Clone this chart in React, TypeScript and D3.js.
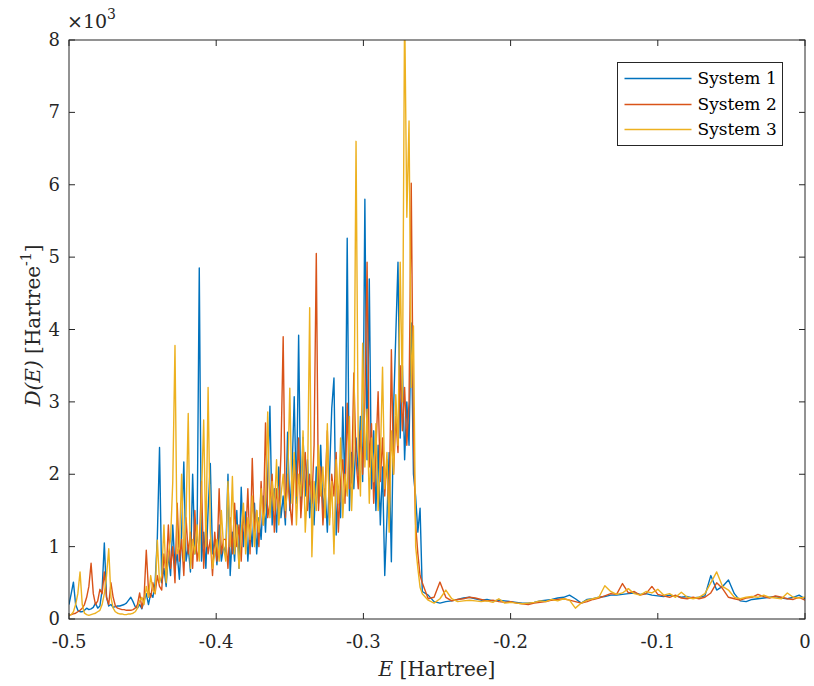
import React from 'react';
import * as d3 from 'd3';

// energies: fine grid over the noisy band, coarse grid over the flat tail
const E_NOISY_START = -0.5;
const E_NOISY_STEP = 0.0015;
const E_TAIL_START = -0.26;
const E_TAIL_STEP = 0.004;

// D(E) in units of 1e3 Hartree^-1
const sys1Noisy = [
  0.2, 0.35, 0.51, 0.2, 0.12, 0.1, 0.1, 0.12, 0.15, 0.13, 0.14, 0.16, 0.22, 0.15, 0.18, 0.4, 1.05, 0.3, 0.18, 0.2,
  0.16, 0.17, 0.18, 0.18, 0.19, 0.2, 0.22, 0.26, 0.3, 0.24, 0.17, 0.15, 0.2, 0.14, 0.25, 0.35, 0.2, 0.35, 0.3, 0.5,
  1.12, 2.37, 0.5, 0.7, 0.45, 0.9, 0.6, 1.3, 0.7, 0.9, 0.55, 1.2, 2.17, 0.8, 1.0, 0.65, 2.0, 0.9, 1.1, 4.85,
  0.8, 1.2, 0.7, 1.5, 2.15, 0.9, 1.1, 0.75, 1.3, 0.8, 1.0, 0.9, 2.0, 0.6, 1.2, 0.8, 1.5, 0.7, 1.82, 1.0,
  1.48, 0.8, 1.3, 1.0, 1.6, 0.9, 1.4, 1.1, 1.7, 1.2, 1.9, 2.94, 1.3, 1.8, 1.2, 2.1, 1.4, 1.7, 1.3, 2.58,
  1.5, 2.0, 3.07, 1.6, 3.92, 1.5, 2.51, 1.7, 2.2, 1.4, 1.9, 1.3, 2.1, 1.6, 2.4, 1.5, 1.8, 1.2, 2.0, 2.91,
  3.33, 1.16, 1.8, 1.4, 2.93, 1.7, 5.26, 1.5, 2.3, 1.8, 2.5, 2.0, 2.8, 1.9, 5.8, 2.2, 4.7, 1.8, 2.6, 1.5,
  2.4, 1.3, 2.1, 0.6, 1.4, 2.3, 0.79, 2.9, 3.92, 4.93, 2.5, 3.5, 2.2, 3.0, 2.4, 4.09, 2.0, 1.69, 1.2, 1.53,
];
const sys2Noisy = [
  0.05, 0.06, 0.07, 0.08, 0.1, 0.12, 0.15, 0.2, 0.3, 0.45, 0.77, 0.35, 0.2, 0.25, 0.41, 0.35, 0.65, 0.3, 0.2, 0.5,
  0.3, 0.18, 0.15, 0.14, 0.13, 0.13, 0.12, 0.12, 0.12, 0.13, 0.15, 0.2, 0.36, 0.15, 0.3, 0.95, 0.4, 0.3, 0.5, 0.35,
  0.6, 0.45, 0.4, 0.9, 0.6, 1.3, 0.7, 1.0, 0.5, 1.6, 0.8, 1.1, 0.6, 1.4, 0.9, 1.2, 0.7, 1.5, 0.8, 1.0,
  1.9, 0.7, 1.3, 0.9, 1.1, 0.6, 1.2, 0.8, 1.8, 0.9, 1.1, 1.1, 0.7, 1.4, 0.9, 1.6, 1.0, 1.3, 0.8, 1.5,
  1.1, 1.8, 0.9, 2.22, 1.2, 1.5, 1.0, 1.9, 1.3, 2.71, 1.4, 1.6, 2.0, 1.2, 1.8, 1.5, 2.3, 3.9, 1.4, 2.0,
  1.6, 1.3, 2.2, 1.7, 2.5, 1.4, 1.9, 2.3, 1.5, 2.0, 1.6, 2.4, 5.05, 1.5, 2.1, 1.3, 1.8, 2.6, 1.4, 2.0,
  1.7, 2.3, 1.2, 1.9, 2.2, 1.6, 2.98, 1.8, 1.9, 3.4, 2.2, 1.8, 2.6, 2.0, 3.0, 4.93, 2.1, 2.7, 1.6, 2.3,
  3.14, 1.9, 2.5, 1.7, 2.2, 1.4, 3.72, 2.0, 2.8, 2.3, 3.5, 2.6, 3.2, 2.4, 3.0, 6.02, 2.5, 1.3, 0.9, 0.6,
];
const sys3Noisy = [
  0.05, 0.06, 0.1, 0.2, 0.35, 0.65, 0.2, 0.08, 0.06, 0.05, 0.06, 0.07, 0.08, 0.1, 0.12, 0.2, 0.35, 0.6, 0.97, 0.3,
  0.15, 0.1, 0.08, 0.07, 0.07, 0.06, 0.06, 0.07, 0.07, 0.08, 0.1, 0.15, 0.25, 0.3, 0.2, 0.45, 0.3, 0.6, 0.4, 0.35,
  1.09, 0.5, 0.6, 1.3, 0.5, 0.9, 1.1, 1.9, 3.78, 0.9, 1.0, 2.0, 0.8, 1.4, 2.84, 0.7, 1.1, 0.9, 1.3, 0.8,
  1.7, 2.75, 1.0, 3.2, 1.2, 0.7, 0.9, 1.1, 0.8, 1.5, 1.0, 0.8, 1.9, 1.0, 1.97, 0.9, 1.3, 0.7, 1.2, 1.6,
  0.9, 1.4, 1.1, 1.7, 1.0, 1.5, 1.2, 1.8, 1.3, 1.6, 2.86, 1.4, 1.9, 1.5, 2.2, 1.3, 1.7, 2.0, 1.5, 1.8,
  3.19, 1.6, 2.3, 1.3, 2.0, 1.7, 2.6, 1.2, 1.8, 4.3, 0.86, 1.9, 1.5, 2.4, 1.7, 2.1, 1.4, 2.7, 1.3, 1.9,
  0.9, 2.2, 1.6, 2.5, 1.4, 2.0, 1.7, 2.8, 1.5, 2.3, 6.6, 2.4, 1.7, 3.81, 2.1, 2.9, 1.6, 2.5, 1.9, 2.7,
  1.5, 2.2, 3.48, 1.8, 2.3, 1.2, 2.6, 2.0, 3.1, 2.4, 4.93, 3.0, 8.5, 5.55, 6.88, 3.2, 4.05, 1.0, 0.7, 0.44,
];

const sys1Tail = [
  0.38, 0.33, 0.24, 0.22, 0.24, 0.25, 0.27, 0.29, 0.3, 0.28, 0.26, 0.27, 0.25, 0.26, 0.25, 0.24, 0.23, 0.22, 0.22, 0.23,
  0.25, 0.26, 0.27, 0.29, 0.3, 0.33, 0.28, 0.22, 0.27, 0.28, 0.3, 0.31, 0.33, 0.33, 0.34, 0.35, 0.36, 0.34, 0.35, 0.33,
  0.32, 0.31, 0.33, 0.32, 0.3, 0.31, 0.29, 0.3, 0.32, 0.6, 0.4, 0.45, 0.54, 0.35, 0.25, 0.24, 0.27, 0.28, 0.29, 0.3,
  0.31, 0.29, 0.28, 0.3, 0.33, 0.28,
];
const sys2Tail = [
  0.5, 0.28, 0.3, 0.51, 0.3, 0.25, 0.27, 0.28, 0.3, 0.29, 0.27, 0.25, 0.26, 0.24, 0.23, 0.24, 0.22, 0.21, 0.2, 0.22,
  0.23, 0.24, 0.26, 0.27, 0.28, 0.26, 0.24, 0.22, 0.24, 0.27, 0.29, 0.32, 0.35, 0.34, 0.49, 0.36, 0.38, 0.33, 0.35, 0.45,
  0.34, 0.32, 0.3, 0.33, 0.29, 0.28, 0.3, 0.28, 0.3, 0.36, 0.5, 0.42, 0.3, 0.28, 0.26, 0.29, 0.3, 0.34, 0.31, 0.29,
  0.32, 0.3, 0.28, 0.27, 0.3, 0.26,
];
const sys3Tail = [
  0.35, 0.26, 0.22, 0.28, 0.4, 0.28, 0.24, 0.25, 0.26, 0.25, 0.24, 0.25, 0.23, 0.28, 0.22, 0.23, 0.22, 0.21, 0.22, 0.23,
  0.25, 0.24, 0.27, 0.25, 0.28, 0.26, 0.15, 0.22, 0.26, 0.28, 0.3, 0.46, 0.38, 0.34, 0.36, 0.42, 0.35, 0.33, 0.38, 0.36,
  0.41, 0.33, 0.35, 0.3, 0.37, 0.3, 0.28, 0.3, 0.35, 0.5, 0.65, 0.45, 0.4, 0.3, 0.28, 0.3, 0.31, 0.3, 0.33, 0.3,
  0.29, 0.28, 0.36, 0.3, 0.29, 0.3,
];

const seriesNames = ['System 1', 'System 2', 'System 3'];
const seriesColors = ['#0072BD', '#D95319', '#EDB120'];
const xTicks = [-0.5, -0.4, -0.3, -0.2, -0.1, 0];
const yTicks = [0, 1, 2, 3, 4, 5, 6, 7, 8];

const W = 814;
const H = 686;
const margin = { left: 69, right: 9, top: 40, bottom: 67 };
const FONT = '"DejaVu Serif", serif';
const AXIS = '#262626';

const noisyE = sys1Noisy.map((_, i) => E_NOISY_START + i * E_NOISY_STEP);
const tailE = sys1Tail.map((_, j) => E_TAIL_START + j * E_TAIL_STEP);

const series = [
  [...sys1Noisy, ...sys1Tail],
  [...sys2Noisy, ...sys2Tail],
  [...sys3Noisy, ...sys3Tail],
].map((vals, k) => ({
  name: seriesNames[k],
  color: seriesColors[k],
  points: vals.map((v, i) => ({ e: i < noisyE.length ? noisyE[i] : tailE[i - noisyE.length], d: v })),
}));

const fmtTick = (t: number) => (t === 0 ? '0' : d3.format('.1f')(t).replace('−', '-'));

export default function App() {
  const x = d3.scaleLinear().domain([-0.5, 0]).range([margin.left, W - margin.right]);
  const y = d3.scaleLinear().domain([0, 8]).range([H - margin.bottom, margin.top]);
  const line = d3.line<{ e: number; d: number }>().x(p => x(p.e)).y(p => y(p.d));

  const x0 = margin.left;
  const x1 = W - margin.right;
  const y0 = H - margin.bottom;
  const y1 = margin.top;
  const tl = 6;

  const lg = { x: 617.5, y: 62.5, w: 165, h: 83 };
  const rowY = [78, 104, 129];

  return (
    <svg width={W} height={H} style={{ position: 'fixed', left: 0, top: 0, background: '#fff' }} fontFamily={FONT}>
      <defs>
        <clipPath id="plotClip">
          <rect x={x0} y={y1} width={x1 - x0} height={y0 - y1} />
        </clipPath>
      </defs>
      <rect x={0} y={0} width={W} height={H} fill="#fff" />

      <g clipPath="url(#plotClip)">
        {series.map(s => (
          <path key={s.name} d={line(s.points) || ''} fill="none" stroke={s.color} strokeWidth={1.4} strokeLinejoin="round" />
        ))}
      </g>

      {/* box + ticks */}
      <rect x={x0} y={y1} width={x1 - x0} height={y0 - y1} fill="none" stroke={AXIS} strokeWidth={1} />
      {xTicks.map(t => (
        <g key={'x' + t}>
          <line x1={x(t)} x2={x(t)} y1={y0} y2={y0 - tl} stroke={AXIS} />
          <line x1={x(t)} x2={x(t)} y1={y1} y2={y1 + tl} stroke={AXIS} />
          <text x={x(t)} y={y0 + 29} textAnchor="middle" fontSize={18} fill={AXIS}>
            {fmtTick(t)}
          </text>
        </g>
      ))}
      {yTicks.map(t => (
        <g key={'y' + t}>
          <line x1={x0} x2={x0 + tl} y1={y(t)} y2={y(t)} stroke={AXIS} />
          <line x1={x1} x2={x1 - tl} y1={y(t)} y2={y(t)} stroke={AXIS} />
          <text x={x0 - 9} y={y(t) + 6} textAnchor="end" fontSize={18} fill={AXIS}>
            {t}
          </text>
        </g>
      ))}

      <text x={x0 - 2} y={y1 - 12} fontSize={19} fill={AXIS}>
        ×10<tspan dy={-9} fontSize={14}>3</tspan>
      </text>

      <text x={(x0 + x1) / 2} y={y0 + 57} textAnchor="middle" fontSize={20} fill={AXIS}>
        <tspan fontStyle="italic">E</tspan> [Hartree]
      </text>

      <text transform={`translate(40,${(y0 + y1) / 2 - 4}) rotate(-90)`} textAnchor="middle" fontSize={20} fill={AXIS}>
        <tspan fontStyle="italic">D(E)</tspan> [Hartree<tspan dy={-9} fontSize={14}>-1</tspan><tspan dy={9}>]</tspan>
      </text>

      {/* legend */}
      <rect x={lg.x} y={lg.y} width={lg.w} height={lg.h} fill="#fff" stroke={AXIS} strokeWidth={1} />
      {series.map((s, i) => (
        <g key={'lg' + s.name}>
          <line x1={lg.x + 7} x2={lg.x + 74} y1={rowY[i] + 0.5} y2={rowY[i] + 0.5} stroke={s.color} strokeWidth={1.4} />
          <text x={lg.x + 80} y={rowY[i] + 6} fontSize={17} fill="#000">
            {s.name}
          </text>
        </g>
      ))}
    </svg>
  );
}
